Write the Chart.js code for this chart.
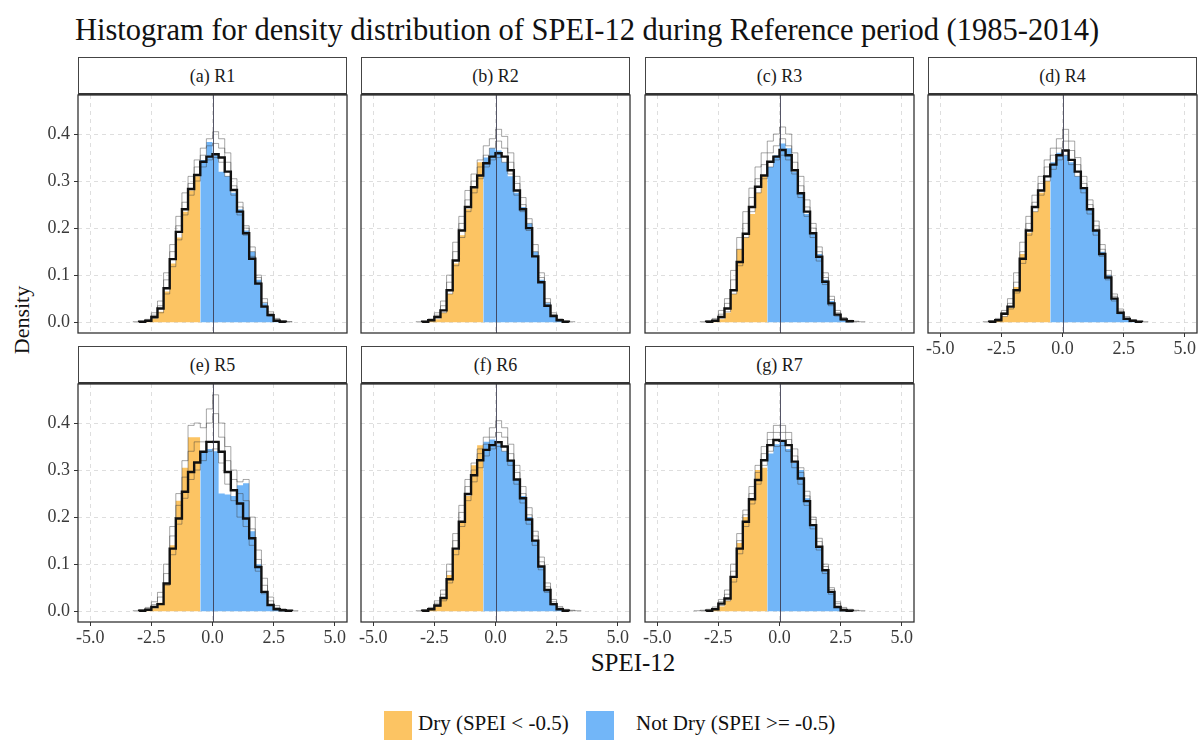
<!DOCTYPE html>
<html>
<head>
<meta charset="utf-8">
<script src="https://cdn.jsdelivr.net/npm/chart.js@4.4.0/dist/chart.umd.min.js"></script>
<style>
  body { margin: 0; background: #fff; font-family: "Liberation Serif", "Times New Roman", serif; }
  #page { position: relative; width: 1198px; height: 740px; overflow: hidden; background: #fff; }
  #page canvas { position: absolute; }
  .strip { position: absolute; box-sizing: border-box; border: 1px solid #444; border-bottom: 2px solid #333;
           background: #fff; text-align: center; font-size: 18px; color: #1a1a1a; line-height: 36px; }
  .txt { position: absolute; color: #111; white-space: nowrap; }
  .key { position: absolute; width: 28px; height: 30px; }
</style>
</head>
<body>
<div id="page">
  <div class="txt" style="left:75px;top:13px;font-size:30.5px;">Histogram for density distribution of SPEI-12 during Reference period (1985-2014)</div>
  <div class="txt" style="left:22px;top:320px;font-size:22px;transform:translate(-50%,-50%) rotate(-90deg);">Density</div>
  <div class="txt" style="left:633px;top:649px;font-size:25px;transform:translateX(-50%);">SPEI-12</div>
  <div class="key" style="left:384px;top:711px;background:#FCC463;"></div>
  <div class="txt" style="left:418px;top:711px;font-size:21px;">Dry (SPEI &lt; -0.5)</div>
  <div class="key" style="left:586px;top:711px;background:#72B6F8;"></div>
  <div class="txt" style="left:636px;top:711px;font-size:21px;">Not Dry (SPEI &gt;= -0.5)</div>
</div>
<script>
// bins: left edges, width 0.25
const binStarts = [-3.5, -3.25, -3.0, -2.75, -2.5, -2.25, -2.0, -1.75, -1.5, -1.25, -1.0, -0.75, -0.5, -0.25,
                   0.0, 0.25, 0.5, 0.75, 1.0, 1.25, 1.5, 1.75, 2.0, 2.25, 2.5, 2.75, 3.0, 3.25];
const BIN_WIDTH = 0.25;
const DRY_LIMIT = -0.5;
const VLINE_AT = 0;
const xTicks = [-5, -2.5, 0, 2.5, 5];
const yTicks = [0, 0.1, 0.2, 0.3, 0.4];
const panelTitles = ['(a) R1', '(b) R2', '(c) R3', '(d) R4', '(e) R5', '(f) R6', '(g) R7'];

// filled histogram (all data), black outline (mean), thin grey outlines (runs)
const allR1  = [0,0,0.001,0.003,0.008,0.022,0.065,0.125,0.18,0.235,0.28,0.31,0.345,0.383,0.355,0.32,0.31,0.275,0.24,0.195,0.15,0.09,0.04,0.015,0.003,0.001,0,0];
const meanR1 = [0,0,0.001,0.003,0.011,0.029,0.072,0.134,0.192,0.24,0.283,0.313,0.341,0.352,0.357,0.35,0.32,0.281,0.235,0.189,0.135,0.082,0.033,0.015,0.003,0.001,0,0];
const runsR1 = [
  [0,0.001,0.002,0.006,0.02,0.045,0.105,0.165,0.225,0.275,0.31,0.345,0.37,0.39,0.405,0.39,0.36,0.305,0.255,0.205,0.16,0.1,0.05,0.022,0.008,0.003,0.001,0],
  [0,0,0.001,0.004,0.015,0.035,0.09,0.15,0.205,0.255,0.295,0.33,0.355,0.375,0.38,0.37,0.34,0.29,0.245,0.2,0.15,0.095,0.042,0.018,0.006,0.002,0.001,0],
  [0,0,0.001,0.002,0.008,0.02,0.06,0.118,0.175,0.228,0.27,0.3,0.33,0.345,0.35,0.34,0.31,0.27,0.228,0.185,0.14,0.085,0.035,0.013,0.004,0.001,0,0]
];

const allR2  = [0,0,0.001,0.003,0.006,0.02,0.06,0.125,0.185,0.24,0.285,0.34,0.35,0.37,0.365,0.34,0.31,0.275,0.245,0.21,0.15,0.09,0.04,0.012,0.003,0.001,0,0];
const meanR2 = [0,0,0.001,0.004,0.011,0.025,0.068,0.131,0.195,0.245,0.287,0.312,0.338,0.352,0.359,0.352,0.323,0.28,0.24,0.2,0.14,0.085,0.035,0.013,0.004,0.001,0,0];
const runsR2 = [
  [0,0.001,0.002,0.007,0.02,0.045,0.1,0.17,0.225,0.28,0.315,0.345,0.375,0.39,0.41,0.395,0.36,0.31,0.265,0.22,0.165,0.105,0.05,0.02,0.007,0.002,0.001,0],
  [0,0,0.001,0.005,0.015,0.035,0.085,0.15,0.21,0.26,0.3,0.33,0.355,0.37,0.385,0.37,0.34,0.295,0.25,0.21,0.15,0.095,0.042,0.016,0.005,0.002,0,0],
  [0,0,0.001,0.003,0.009,0.02,0.06,0.12,0.18,0.235,0.275,0.305,0.33,0.345,0.35,0.34,0.315,0.27,0.235,0.195,0.14,0.085,0.035,0.012,0.003,0.001,0,0]
];

const allR3  = [0,0,0.001,0.003,0.006,0.02,0.06,0.155,0.18,0.23,0.275,0.31,0.33,0.355,0.38,0.37,0.32,0.275,0.23,0.19,0.145,0.09,0.045,0.015,0.004,0.001,0,0];
const meanR3 = [0,0,0.001,0.003,0.011,0.029,0.068,0.128,0.188,0.245,0.288,0.312,0.341,0.352,0.366,0.355,0.323,0.274,0.235,0.189,0.139,0.086,0.04,0.016,0.006,0.002,0,0];
const runsR3 = [
  [0,0.001,0.003,0.008,0.025,0.05,0.11,0.18,0.235,0.285,0.33,0.36,0.385,0.4,0.415,0.4,0.36,0.31,0.26,0.21,0.16,0.105,0.055,0.025,0.01,0.004,0.002,0.001],
  [0,0,0.002,0.005,0.017,0.04,0.09,0.155,0.21,0.265,0.305,0.335,0.36,0.375,0.39,0.375,0.34,0.29,0.245,0.2,0.15,0.095,0.048,0.02,0.008,0.003,0.001,0],
  [0,0,0.001,0.003,0.009,0.022,0.06,0.12,0.18,0.235,0.275,0.305,0.33,0.345,0.355,0.345,0.315,0.265,0.225,0.18,0.13,0.08,0.035,0.013,0.004,0.001,0,0]
];

const allR4  = [0,0,0.001,0.003,0.012,0.03,0.075,0.145,0.19,0.235,0.275,0.3,0.34,0.36,0.355,0.34,0.31,0.285,0.24,0.195,0.15,0.1,0.05,0.02,0.006,0.002,0,0];
const meanR4 = [0,0,0.001,0.004,0.018,0.033,0.068,0.135,0.195,0.245,0.28,0.31,0.335,0.355,0.365,0.345,0.32,0.285,0.24,0.195,0.145,0.095,0.05,0.02,0.007,0.003,0.001,0];
const runsR4 = [
  [0,0.001,0.003,0.008,0.025,0.05,0.105,0.17,0.225,0.27,0.31,0.345,0.37,0.39,0.41,0.385,0.35,0.31,0.26,0.215,0.165,0.11,0.06,0.028,0.012,0.005,0.002,0.001],
  [0,0,0.002,0.006,0.02,0.04,0.085,0.15,0.21,0.255,0.295,0.33,0.355,0.37,0.385,0.365,0.335,0.295,0.25,0.205,0.155,0.1,0.055,0.024,0.009,0.004,0.001,0],
  [0,0,0.001,0.003,0.012,0.028,0.062,0.125,0.185,0.235,0.27,0.3,0.325,0.345,0.355,0.335,0.31,0.275,0.23,0.185,0.14,0.09,0.045,0.018,0.006,0.002,0.001,0]
];

const allR5  = [0,0,0.001,0.002,0.006,0.018,0.06,0.14,0.235,0.305,0.37,0.37,0.34,0.345,0.34,0.25,0.248,0.245,0.268,0.272,0.17,0.1,0.04,0.012,0.003,0.001,0,0];
const meanR5 = [0,0,0.001,0.003,0.009,0.015,0.059,0.133,0.197,0.254,0.296,0.316,0.339,0.36,0.36,0.339,0.296,0.257,0.229,0.197,0.155,0.094,0.041,0.013,0.004,0.002,0.001,0];
const runsR5 = [
  [0,0.001,0.003,0.008,0.02,0.04,0.1,0.18,0.25,0.32,0.395,0.4,0.39,0.43,0.46,0.4,0.35,0.3,0.275,0.28,0.2,0.13,0.07,0.03,0.012,0.005,0.002,0.001],
  [0,0,0.002,0.005,0.014,0.03,0.08,0.16,0.225,0.285,0.34,0.36,0.36,0.4,0.42,0.37,0.32,0.28,0.25,0.235,0.175,0.11,0.055,0.022,0.008,0.003,0.001,0],
  [0,0,0.001,0.003,0.008,0.016,0.055,0.12,0.185,0.24,0.28,0.3,0.32,0.34,0.345,0.315,0.27,0.235,0.2,0.18,0.14,0.085,0.037,0.012,0.004,0.001,0,0]
];

const allR6  = [0,0,0.001,0.004,0.012,0.03,0.077,0.13,0.19,0.245,0.31,0.353,0.36,0.365,0.355,0.34,0.32,0.28,0.245,0.2,0.15,0.095,0.045,0.015,0.004,0.001,0,0];
const meanR6 = [0,0,0.001,0.004,0.012,0.028,0.068,0.133,0.19,0.249,0.289,0.321,0.343,0.353,0.359,0.35,0.32,0.28,0.24,0.195,0.15,0.095,0.045,0.015,0.004,0.001,0,0];
const runsR6 = [
  [0,0.001,0.003,0.008,0.022,0.045,0.1,0.165,0.225,0.28,0.315,0.345,0.37,0.39,0.405,0.39,0.355,0.31,0.265,0.22,0.17,0.115,0.06,0.025,0.01,0.004,0.002,0.001],
  [0,0,0.002,0.006,0.017,0.036,0.085,0.15,0.21,0.265,0.3,0.335,0.355,0.37,0.38,0.37,0.335,0.295,0.25,0.205,0.16,0.105,0.052,0.02,0.007,0.003,0.001,0],
  [0,0,0.001,0.003,0.01,0.022,0.06,0.12,0.18,0.235,0.275,0.305,0.33,0.345,0.35,0.34,0.31,0.27,0.23,0.185,0.14,0.088,0.04,0.013,0.004,0.001,0,0]
];

const allR7  = [0,0,0.001,0.003,0.01,0.022,0.07,0.145,0.2,0.24,0.3,0.305,0.335,0.355,0.36,0.345,0.315,0.3,0.24,0.185,0.135,0.085,0.04,0.01,0.003,0.001,0,0];
const meanR7 = [0,0,0.001,0.004,0.016,0.027,0.073,0.133,0.19,0.238,0.279,0.321,0.353,0.364,0.362,0.353,0.318,0.282,0.234,0.183,0.137,0.087,0.041,0.009,0.002,0.001,0,0];
const runsR7 = [
  [0.001,0.002,0.004,0.009,0.025,0.045,0.1,0.165,0.215,0.265,0.31,0.35,0.38,0.395,0.395,0.38,0.345,0.305,0.255,0.2,0.155,0.1,0.05,0.02,0.008,0.004,0.002,0.001],
  [0,0.001,0.002,0.006,0.02,0.036,0.085,0.15,0.205,0.25,0.295,0.335,0.365,0.38,0.38,0.365,0.33,0.295,0.245,0.195,0.148,0.095,0.046,0.016,0.006,0.002,0.001,0],
  [0,0,0.001,0.003,0.012,0.022,0.062,0.122,0.18,0.228,0.27,0.31,0.34,0.35,0.352,0.34,0.305,0.27,0.225,0.175,0.13,0.08,0.036,0.008,0.002,0.001,0,0]
];

const DRY_COLOR = '#FCC463';
const WET_COLOR = '#72B6F8';

// panel grid (pixels of the plotting area)
const COL_X = [78, 361, 645, 928];
const ROW_Y = [95, 384];
const PLOT_W = 269;
const PLOT_H = 238;
const STRIP_H = 38;

const panels = [
  { all: allR1, mean: meanR1, runs: runsR1, col: 0, row: 0 },
  { all: allR2, mean: meanR2, runs: runsR2, col: 1, row: 0 },
  { all: allR3, mean: meanR3, runs: runsR3, col: 2, row: 0 },
  { all: allR4, mean: meanR4, runs: runsR4, col: 3, row: 0 },
  { all: allR5, mean: meanR5, runs: runsR5, col: 0, row: 1 },
  { all: allR6, mean: meanR6, runs: runsR6, col: 1, row: 1 },
  { all: allR7, mean: meanR7, runs: runsR7, col: 2, row: 1 }
];

Chart.defaults.font.family = '"Liberation Serif", "Times New Roman", serif';

// histogram outline as step points (bin left edges, closed at the right edge)
function stepPoints(values, keep) {
  let idx = binStarts.map((b, i) => i).filter(i => !keep || keep(binStarts[i]));
  if (!keep) {
    // outlines only run over the occupied bins
    const used = idx.filter(i => values[i] > 0);
    idx = idx.filter(i => i >= used[0] && i <= used[used.length - 1]);
  }
  const pts = [{ x: binStarts[idx[0]], y: 0 }];
  idx.forEach(i => pts.push({ x: binStarts[i], y: values[i] }));
  pts.push({ x: binStarts[idx[idx.length - 1]] + BIN_WIDTH, y: 0 });
  return pts;
}

const framePlugin = {
  id: 'frame',
  afterDatasetsDraw(chart) {
    const { ctx, chartArea: a, scales: { x } } = chart;
    const px = Math.round(x.getPixelForValue(VLINE_AT)) + 0.5;
    ctx.save();
    ctx.strokeStyle = 'rgba(55,55,75,0.85)';
    ctx.lineWidth = 1;
    ctx.beginPath();
    ctx.moveTo(px, a.top);
    ctx.lineTo(px, a.bottom);
    ctx.stroke();
    ctx.strokeStyle = '#333';
    ctx.lineWidth = 1.3;
    ctx.strokeRect(a.left, a.top, a.right - a.left, a.bottom - a.top);
    ctx.restore();
  }
};

const page = document.getElementById('page');

panels.forEach((p, idx) => {
  const showY = p.col === 0;
  const showX = p.row === 1 || p.col === 3;
  const padL = showY ? 46 : 20, padB = showX ? 30 : 2, padT = 2, padR = 2;
  const left = COL_X[p.col], top = ROW_Y[p.row];

  const strip = document.createElement('div');
  strip.className = 'strip';
  strip.style.left = left + 'px';
  strip.style.top = (top - STRIP_H) + 'px';
  strip.style.width = PLOT_W + 'px';
  strip.style.height = STRIP_H + 'px';
  strip.textContent = panelTitles[idx];
  page.appendChild(strip);

  const cv = document.createElement('canvas');
  const w = PLOT_W + padL + padR, h = PLOT_H + padT + padB;
  cv.width = w; cv.height = h;
  cv.style.width = w + 'px'; cv.style.height = h + 'px';
  cv.style.left = (left - padL) + 'px';
  cv.style.top = (top - padT) + 'px';
  page.appendChild(cv);

  const line = { stepped: true, pointRadius: 0, pointHoverRadius: 0, fill: false };
  const datasets = [
    Object.assign({ data: stepPoints(p.mean), borderColor: '#111', borderWidth: 2.4, order: 1 }, line)
  ];
  p.runs.forEach(r => datasets.push(
    Object.assign({ data: stepPoints(r), borderColor: 'rgba(60,60,60,0.5)', borderWidth: 0.9, order: 2 }, line)
  ));
  datasets.push(Object.assign({}, line, {
    data: stepPoints(p.all, b => b < DRY_LIMIT), fill: 'origin',
    backgroundColor: DRY_COLOR, borderColor: 'rgba(0,0,0,0)', borderWidth: 0, order: 3
  }));
  datasets.push(Object.assign({}, line, {
    data: stepPoints(p.all, b => b >= DRY_LIMIT), fill: 'origin',
    backgroundColor: WET_COLOR, borderColor: 'rgba(0,0,0,0)', borderWidth: 0, order: 3
  }));

  const grid = { color: '#d6d6d6', lineWidth: 0.8, tickColor: '#333', tickLength: 4, tickWidth: 1 };

  new Chart(cv.getContext('2d'), {
    type: 'line',
    data: { datasets },
    options: {
      responsive: false,
      animation: false,
      devicePixelRatio: 1,
      layout: { padding: { top: padT, right: padR, left: 0, bottom: 0 } },
      plugins: { legend: { display: false }, tooltip: { enabled: false } },
      scales: {
        x: {
          type: 'linear', min: -5.5, max: 5.5,
          afterBuildTicks: s => { s.ticks = xTicks.map(v => ({ value: v })); },
          afterFit: s => { s.height = padB; s.paddingLeft = 0; s.paddingRight = 0; },
          ticks: { display: showX, color: '#3a3a3a', font: { size: 18 }, padding: 1, maxRotation: 0,
                   callback: v => v.toFixed(1) },
          grid: Object.assign({}, grid, { drawTicks: showX }),
          border: { display: false, dash: [4, 4] }
        },
        y: {
          type: 'linear', min: -0.023, max: 0.483,
          afterBuildTicks: s => { s.ticks = yTicks.map(v => ({ value: v })); },
          afterFit: s => { s.width = padL; s.paddingTop = 0; s.paddingBottom = 0; },
          ticks: { display: showY, color: '#3a3a3a', font: { size: 18 }, padding: 4,
                   callback: v => v.toFixed(1) },
          grid: Object.assign({}, grid, { drawTicks: showY }),
          border: { display: false, dash: [4, 4] }
        }
      }
    },
    plugins: [framePlugin]
  });
});
</script>
</body>
</html>
